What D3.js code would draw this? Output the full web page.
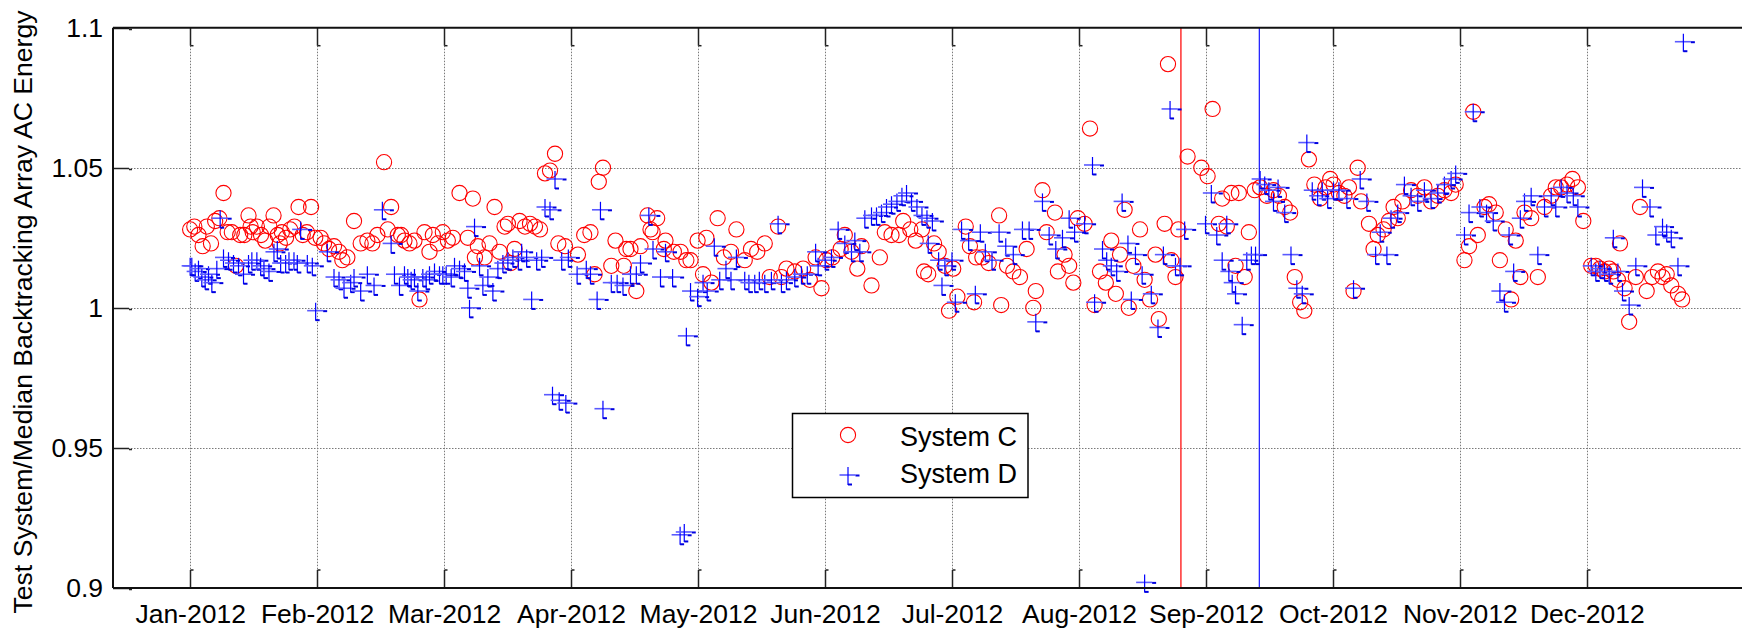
<!DOCTYPE html>
<html>
<head>
<meta charset="utf-8">
<script src="https://cdn.jsdelivr.net/npm/d3@7"></script>
<style>
body { margin: 0; background: #fff; }
text { font-family: "Liberation Sans", Arial, sans-serif; fill: #000; }
</style>
</head>
<body>
<svg id="chart"></svg>
<script>
// daily ratio, [day of 2012 (0 = 1 Jan), value]
var systemC = [
  [0,1.028],[1,1.029],[2,1.026],[3,1.022],[4,1.029],[5,1.023],[6,1.031],[7,1.032],[8,1.041],[9,1.027],
  [10,1.027],[11,1.015],[12,1.026],[13,1.026],[14,1.033],[14.5,1.029],[15,1.027],[16,1.029],[17,1.026],[18,1.024],
  [19,1.029],[20,1.033],[21,1.026],[21.5,1.023],[22,1.027],[23,1.025],[24,1.028],[25,1.029],[26,1.036],[27,1.026],
  [28,1.027],[29,1.036],[30,1.025],
  [31.3,1.025],[32.1,1.023],[33.3,1.021],[34.5,1.022],[35.7,1.020],[36.5,1.017],[37.7,1.018],[39.3,1.031],[40.9,1.023],
  [42.5,1.024],[43.7,1.023],[44.9,1.026],[46.5,1.052],[47.4,1.028],[48.2,1.036],[49.8,1.026],[50.6,1.026],[51.4,1.024],
  [52.6,1.023],[53.8,1.024],[55,1.003],[56.2,1.027],[57.4,1.020],[58.2,1.026],[59.4,1.023],[60.6,1.027],
  [61.8,1.024],[63,1.025],[64.6,1.041],[66.6,1.025],[67.8,1.039],[68.3,1.018],[69,1.022],[70.6,1.018],[71.8,1.023],
  [73,1.036],[74.2,1.020],[75.4,1.029],[76.2,1.030],[76.9,1.016],[77.8,1.021],[79,1.031],[80.3,1.029],[81.5,1.030],
  [82.7,1.029],[83.9,1.028],[85.1,1.048],[86.3,1.049],[87.5,1.055],[88.3,1.023],[89.9,1.022],
  [93,1.019],[94.5,1.026],[96,1.027],[97,1.012],[98,1.045],[99,1.050],[101,1.015],[102,1.024],[104,1.015],[104.6,1.021],
  [105.6,1.021],[107,1.006],[108,1.022],[109.7,1.033],[110.4,1.028],[110.9,1.027],[112,1.032],[113.6,1.021],[114,1.024],
  [116,1.020],[117.6,1.020],[119,1.017],[120,1.017],[121.7,1.024],[123,1.012],[123.8,1.025],[125,1.009],[126.5,1.032],
  [128,1.018],[129.7,1.020],[131,1.028],[133,1.017],[134.5,1.021],[136,1.020],[137.8,1.023],[139,1.011],[141,1.029],
  [141.8,1.011],[143,1.014],[145,1.013],[147,1.014],[148.6,1.010],[150,1.018],[151.4,1.007],[152.6,1.017],[154,1.018],
  [156,1.021],[157,1.026],[158.6,1.020],[160,1.014],[161,1.022],[163.4,1.008],[165.4,1.018],[166.6,1.027],[168.2,1.026],
  [170,1.026],[171,1.031],[172.7,1.028],[174,1.024],[175.5,1.028],[176,1.013],[177,1.012],[178.4,1.023],[179.5,1.020],
  [181,1.015],[182,0.999],[183,1.014],[184,1.004],[186,1.029],[187,1.022],[188,1.002],[188.5,1.018],[190,1.018],
  [191.5,1.016],[194,1.033],[194.5,1.001],
  [195.9,1.015],[197.4,1.013],[199,1.011],[200.6,1.021],[202.2,1.000],[202.8,1.006],[204.4,1.042],[205.4,1.027],
  [207.4,1.034],[208.1,1.013],[209.7,1.019],[210.8,1.015],[211.8,1.009],[212.9,1.032],
  [214.5,1.030],[215.8,1.064],[216.9,1.001],[218.2,1.013],[219.6,1.009],[220.9,1.024],[222,1.005],[223,1.019],
  [224.1,1.035],[225.1,1.000],[226.2,1.015],[227.8,1.028],[228.9,1.010],[230.2,1.003],[231.5,1.019],[232.3,0.996],
  [233.7,1.030],[234.5,1.087],[235.3,1.017],[236.3,1.011],[237,1.028],[239.2,1.054],
  [242.5,1.050],[244,1.047],[245.2,1.071],[246.7,1.030],[247.5,1.039],[248.6,1.029],[249.7,1.041],[250.7,1.015],
  [251.5,1.041],[252.9,1.011],[253.9,1.027],[255.3,1.042],[256.6,1.043],[258.2,1.040],[259.8,1.042],[261.1,1.040],
  [262.5,1.036],[263.8,1.034],[264.9,1.011],[266.2,1.002],[267.2,0.999],[268.3,1.053],[269.6,1.044],[271,1.039],
  [272.3,1.043],[273.4,1.046],
  [274.2,1.044],[275.5,1.041],[276.8,1.040],[277.9,1.043],[279,1.006],[280,1.050],[280.8,1.038],[282.7,1.030],
  [283.8,1.021],[284.8,1.026],[286.2,1.028],[287.5,1.031],[288.6,1.036],[289.6,1.032],[290.7,1.038],[292.8,1.042],
  [294.4,1.040],[296,1.043],[297.6,1.038],[299.2,1.040],[300.8,1.042],[302.4,1.041],[303.5,1.044],
  [305.6,1.017],[306.7,1.022],[307.7,1.070],[308.8,1.026],[310.4,1.036],[311.5,1.037],[313.1,1.034],[314.1,1.017],
  [315.5,1.028],[316.8,1.003],[317.9,1.024],[319,1.011],[320,1.034],[321.6,1.032],[323.2,1.011],[324.8,1.036],
  [326.4,1.040],[327.5,1.043],[328.8,1.043],[330.2,1.044],[331.5,1.046],[332.8,1.043],[334.1,1.031],
  [336,1.015],[337.1,1.015],[338.1,1.014],[339.2,1.013],[340.3,1.014],[341.3,1.013],[342.4,1.010],[342.9,1.023],
  [344,1.007],[345.1,0.995],[346.7,1.011],[347.7,1.036],[349.3,1.006],[350.6,1.011],[352,1.013],[353.1,1.011],
  [354.1,1.012],[355.2,1.008],[356.8,1.005],[357.8,1.003]
];

var systemD = [
  [0,1.015],[0.4,1.015],[1.2,1.013],[2,1.014],[2.8,1.011],[3.6,1.010],[4.4,1.012],[5.2,1.009],[6.4,1.014],[7.2,1.032],
  [8,1.018],[9.2,1.017],[10.4,1.016],[11.6,1.015],[12.8,1.012],[14,1.016],[14.8,1.017],[16,1.017],[16.9,1.015],[17.7,1.014],
  [18.9,1.013],[20.1,1.020],[20.9,1.021],[21.7,1.016],[22.9,1.016],[23.7,1.017],[24.9,1.017],[25.7,1.016],[26.5,1.028],
  [28.1,1.016],[29.3,1.015],[30.1,0.999],
  [32.9,1.020],[34.5,1.011],[35.7,1.010],[36.9,1.007],[38.5,1.009],[39.3,1.011],[40.9,1.006],[42.5,1.012],[44.1,1.008],
  [46.1,1.035],[48.2,1.023],[49,1.012],[50.2,1.008],[51.4,1.012],[52.2,1.011],[53,1.010],[53.8,1.011],[54.6,1.006],
  [55.8,1.011],[56.6,1.010],[57.4,1.012],[58.6,1.013],[59.8,1.012],[60.6,1.012],
  [61.4,1.012],[62.6,1.011],[63.4,1.015],[64.6,1.014],[65.8,1.013],[66.6,1.007],[67,1.000],[68.2,1.029],[69.4,1.015],
  [70.2,1.008],[71.4,1.011],[72.6,1.006],[73.8,1.014],[75,1.016],[76.2,1.017],[77.4,1.018],[78.7,1.017],[79.5,1.020],
  [80.7,1.018],[81.9,1.003],[83.1,1.017],[84.3,1.018],[85.1,1.036],[86.3,1.035],[86.9,0.969],[87.5,1.046],[88.5,0.967],
  [89.1,1.017],[90.1,0.966],[90.7,1.018],
  [92.8,1.012],[95,1.014],[96,1.012],[97.6,1.003],[98.4,1.035],[99,0.964],[101,1.009],[102.4,1.009],[103.8,1.008],
  [105.6,1.012],[107,1.012],[108,1.016],[110,1.033],[111,1.021],[112.8,1.011],[114,1.020],[115.7,1.011],[117.5,0.919],
  [118.5,0.920],[119,0.990],[120,1.006],[121.7,1.004],[123,1.009],[124,1.006],[125.7,1.022],[127,1.010],[128.5,1.014],
  [129.7,1.010],[131,1.018],[133,1.010],[134,1.009],[135.4,1.009],[136.5,1.010],[137.8,1.009],[139.4,1.010],[141,1.030],
  [141.8,1.009],[143,1.010],[145,1.011],[146.6,1.012],[148,1.012],[150,1.020],[150.6,1.015],[152.3,1.017],[153.8,1.018],
  [155.4,1.028],[157,1.023],[158.6,1.020],[159.4,1.024],[160.6,1.020],[161.8,1.032],[163.4,1.033],[164.6,1.033],
  [165.8,1.034],[167,1.036],[168.2,1.037],[169.5,1.038],[170.7,1.040],[171.8,1.041],[173,1.038],[174.3,1.036],
  [175.5,1.033],[176.7,1.032],[177,1.023],[178,1.031],[179.5,1.017],[180.3,1.008],[181,1.015],[182.7,1.017],
  [183.5,1.002],[185,1.028],[186.7,1.024],[188.3,1.005],[189.5,1.027],[190.7,1.020],[192.3,1.017],[194,1.027],
  [195.6,1.022],[197.4,1.019],[199.6,1.028],[201.2,1.028],[202.8,0.995],[204.4,1.038],[206,1.026],[207.6,1.021],
  [209.2,1.025],[210.8,1.032],[212.1,1.027],
  [214.5,1.030],[216.4,1.051],[216.9,1.002],[218.8,1.021],[219.8,1.017],[220.9,1.015],[222.2,1.013],[223.5,1.038],
  [224.9,1.023],[225.7,1.003],[226.7,1.019],[228.3,1.012],[228.9,0.902],[230.5,1.005],[232.1,0.993],[233.4,1.019],
  [235,1.071],[236.3,1.015],[237.4,1.015],[238.5,1.028],
  [243.5,1.030],[244.9,1.041],[246.2,1.026],[247.5,1.017],[248.6,1.030],[249.1,1.013],[249.9,1.009],[250.7,1.005],
  [252.3,0.994],[253.4,1.017],[254.5,1.019],[255.5,1.019],[256.6,1.046],[257.7,1.044],[258.7,1.042],[259.8,1.038],
  [260.9,1.043],[262.5,1.034],[264,1.019],[265.4,1.007],[266.7,1.005],[267.8,1.059],[269.1,1.042],[270.4,1.040],
  [271.5,1.042],[272.8,1.039],
  [274.2,1.042],[275.5,1.042],[277.4,1.039],[279,1.007],[280.6,1.046],[282.2,1.038],[284.3,1.019],[285.4,1.027],
  [287,1.019],[288,1.032],[289.6,1.034],[291.2,1.044],[292.8,1.040],[294.4,1.038],[296,1.042],[297.6,1.039],
  [299.2,1.041],[300.8,1.044],[302.4,1.046],[303.5,1.048],
  [305.6,1.026],[306.7,1.034],[307.7,1.070],[309.3,1.036],[310.9,1.034],[312.5,1.031],[314.1,1.006],[315.2,1.002],
  [316.3,1.026],[317.4,1.013],[319,1.032],[320,1.038],[321.6,1.040],[323.2,1.019],[324.8,1.036],[326.4,1.040],
  [327.5,1.036],[328.8,1.043],[330.2,1.041],[331.7,1.040],[332.8,1.036],
  [336,1.015],[337.1,1.013],[338.1,1.014],[339.2,1.013],[340.3,1.012],[341.3,1.025],[342.4,1.013],[343.5,1.006],
  [345.1,1.001],[346.7,1.015],[348.3,1.043],[350.1,1.036],[351.5,1.026],[353.1,1.029],[354.1,1.027],[355.2,1.025],
  [356.8,1.015],[358.1,1.095]
];

var monthLabels = ["Jan-2012","Feb-2012","Mar-2012","Apr-2012","May-2012","Jun-2012",
                   "Jul-2012","Aug-2012","Sep-2012","Oct-2012","Nov-2012","Dec-2012"];
var yTicks = [0.9, 0.95, 1, 1.05, 1.1];
var eventDays = [237.6, 256.4];
var eventColors = ["#ff3b3b", "#0000ff"];
var seriesNames = ["System C", "System D"];

var width = 1742;
var height = 628;
var plot = {"left": 113, "right": 1743, "top": 27.7, "bottom": 588};

var svg = d3.select("#chart")
    .attr("width", width)
    .attr("height", height);

svg.append("rect").attr("width", width).attr("height", height).attr("fill", "#fff");

var x = d3.scaleLinear().domain([-18.5, 372.4]).range([plot.left, plot.right]);
var y = d3.scaleLinear().domain([0.9, 1.1]).range([plot.bottom, plot.top]);

// month ticks are evenly spaced in the original
var monthDays = monthLabels.map(function(m, i) { return i * 30.45; });

// dotted grid
var grid = svg.append("g")
    .attr("stroke", "#7a7a7a")
    .attr("stroke-width", 1)
    .attr("stroke-dasharray", "1.5,1.5");

grid.selectAll("line.gx").data(monthDays).join("line")
    .attr("class", "gx")
    .attr("x1", function(d) { return Math.round(x(d)) + 0.5; })
    .attr("x2", function(d) { return Math.round(x(d)) + 0.5; })
    .attr("y1", plot.top)
    .attr("y2", plot.bottom);

grid.selectAll("line.gy").data(yTicks.slice(1, -1)).join("line")
    .attr("class", "gy")
    .attr("x1", plot.left)
    .attr("x2", plot.right)
    .attr("y1", function(d) { return Math.round(y(d)) + 0.5; })
    .attr("y2", function(d) { return Math.round(y(d)) + 0.5; });

// inner tick marks
var ticks = svg.append("g").attr("stroke", "#222").attr("stroke-width", 1.5);
monthDays.forEach(function(d) {
    var px = Math.round(x(d)) + 0.5;
    ticks.append("line").attr("x1", px).attr("x2", px).attr("y1", plot.top).attr("y2", plot.top + 18);
    ticks.append("line").attr("x1", px).attr("x2", px + 3).attr("y1", plot.top + 18).attr("y2", plot.top + 18);
    ticks.append("line").attr("x1", px).attr("x2", px).attr("y1", plot.bottom - 18).attr("y2", plot.bottom);
    ticks.append("line").attr("x1", px).attr("x2", px + 3).attr("y1", plot.bottom - 18).attr("y2", plot.bottom - 18);
});
yTicks.forEach(function(v) {
    var py = Math.round(y(v)) + 0.5;
    ticks.append("line").attr("x1", plot.left).attr("x2", plot.left + 16).attr("y1", py).attr("y2", py);
    ticks.append("line").attr("x1", plot.left + 16).attr("x2", plot.left + 19).attr("y1", py + 1).attr("y2", py + 1);
});

// event lines
svg.append("g").selectAll("line").data(eventDays).join("line")
    .attr("x1", function(d) { return x(d); })
    .attr("x2", function(d) { return x(d); })
    .attr("y1", plot.top)
    .attr("y2", plot.bottom)
    .attr("stroke", function(d, i) { return eventColors[i]; })
    .attr("stroke-width", function(d, i) { return i == 0 ? 1.6 : 1.1; });

// System C circles
svg.append("g").selectAll("circle").data(systemC).join("circle")
    .attr("cx", function(d) { return x(d[0]); })
    .attr("cy", function(d) { return y(d[1]); })
    .attr("r", 7.6)
    .attr("fill", "none")
    .attr("stroke", "#ff0000")
    .attr("stroke-width", 1.1);

// System D plus markers (drawn the way the original renders them)
function plusMark(g, cx, cy) {
    g.append("line").attr("x1", cx - 8.5).attr("x2", cx + 7.5).attr("y1", cy).attr("y2", cy)
        .attr("stroke", "#5a5aff").attr("stroke-width", 1.6);
    g.append("line").attr("x1", cx).attr("x2", cx).attr("y1", cy - 8).attr("y2", cy + 10)
        .attr("stroke", "#0000ff").attr("stroke-width", 1.2);
    g.append("rect").attr("x", cx + 7.5).attr("y", cy - 0.5).attr("width", 4).attr("height", 2).attr("fill", "#0000e0");
    g.append("rect").attr("x", cx).attr("y", cy + 8.5).attr("width", 4).attr("height", 2).attr("fill", "#0000e0");
}
var plusLayer = svg.append("g");
systemD.forEach(function(d) { plusMark(plusLayer, x(d[0]), y(d[1])); });

// frame
var frame = svg.append("g").attr("stroke", "#111").attr("stroke-width", 2);
frame.append("line").attr("x1", plot.left).attr("x2", plot.right).attr("y1", plot.top).attr("y2", plot.top);
frame.append("line").attr("x1", plot.left).attr("x2", plot.right).attr("y1", plot.bottom).attr("y2", plot.bottom);
frame.append("line").attr("x1", plot.left).attr("x2", plot.left).attr("y1", plot.top).attr("y2", plot.bottom);

// axes labels
var xAxis = svg.append("g")
    .attr("transform", "translate(0," + plot.bottom + ")")
    .call(d3.axisBottom(x).tickValues(monthDays)
        .tickFormat(function(d, i) { return monthLabels[i]; })
        .tickSize(0).tickPadding(16));
xAxis.select(".domain").remove();
xAxis.selectAll("text").style("font-size", "26.5px").style("font-family", "Liberation Sans, Arial, sans-serif");

var yAxis = svg.append("g")
    .attr("transform", "translate(" + plot.left + ",0)")
    .call(d3.axisLeft(y).tickValues(yTicks)
        .tickFormat(function(d) { return String(+d.toFixed(2)); })
        .tickSize(0).tickPadding(10));
yAxis.select(".domain").remove();
yAxis.selectAll("text").style("font-size", "26.5px").style("font-family", "Liberation Sans, Arial, sans-serif");

svg.append("text")
    .attr("transform", "translate(32,312) rotate(-90)")
    .attr("text-anchor", "middle")
    .style("font-size", "26.6px")
    .text("Test System/Median Backtracking Array AC Energy");

// legend
var legend = svg.append("g");
legend.append("rect")
    .attr("x", 792.5).attr("y", 413.5).attr("width", 235.5).attr("height", 84)
    .attr("fill", "#fff").attr("stroke", "#000").attr("stroke-width", 1.5);
legend.append("circle").attr("cx", 848).attr("cy", 435).attr("r", 7.6)
    .attr("fill", "none").attr("stroke", "#ff0000").attr("stroke-width", 1.1);
plusMark(legend, 848, 475);
legend.selectAll("text").data(seriesNames).join("text")
    .attr("x", 900)
    .attr("y", function(d, i) { return 446 + i * 37; })
    .style("font-size", "27px")
    .text(function(d) { return d; });
</script>
</body>
</html>
